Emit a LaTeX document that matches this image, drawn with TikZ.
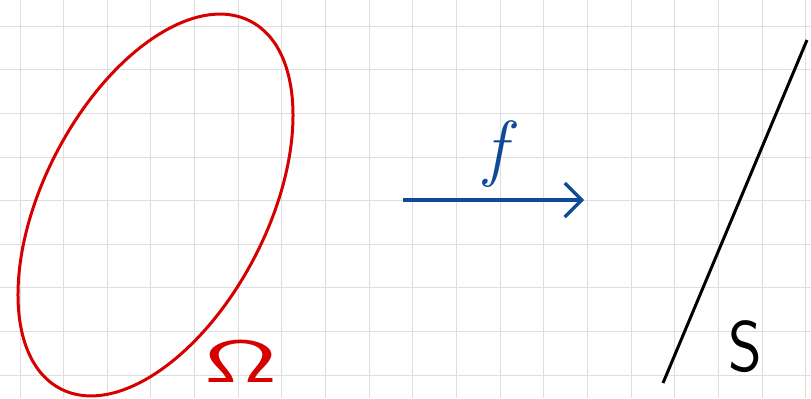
\documentclass[tikz,border=0pt]{standalone}
\usepackage{fontspec}
\usetikzlibrary{arrows.meta}
\definecolor{gridgray}{RGB}{222,222,222}
\definecolor{inkred}{RGB}{214,0,0}
\definecolor{inkblue}{RGB}{16,74,150}
\begin{document}
\begin{tikzpicture}[x=1bp,y=-1bp,
  gridline/.style={draw=gridgray,line width=1bp},
  redink/.style={draw=inkred,line width=3bp},
  blueink/.style={draw=inkblue,line width=3.2bp},
  blackink/.style={draw=black,line width=3bp},
  lbl/.style={inner sep=0pt,outer sep=0pt}]
\useasboundingbox (0,0) rectangle (811,398);
\fill[white] (0,0) rectangle (811,398);
% grid
\foreach \i in {0,...,18} {
  \draw[gridline] ({20+43.65*\i},0) -- ({20+43.65*\i},398);
}
\foreach \j in {0,...,8} {
  \draw[gridline] (0,{26.3+43.6*\j}) -- (811,{26.3+43.6*\j});
}
% domain
\draw[redink] (155.5,205) ellipse[x radius=206.9,y radius=112,rotate=62.7];
\node[lbl,text=inkred,xscale=1.8] (omega) at (241,361) {\fontsize{60}{60}\selectfont\sffamily Ω};
% map
\coordinate (fstart) at (403,200);
\coordinate (fend) at (584,200);
\draw[blueink,-{Straight Barb[length=17bp,width=34bp]}] (fstart) -- (fend);
\node[lbl,text=inkblue] (flabel) at (496,154) {\fontsize{74}{74}\selectfont\itshape f};
% image line
\coordinate (sbot) at (663,383);
\coordinate (stop) at (807,40);
\draw[blackink] (sbot) -- (stop);
\node[lbl,xscale=0.9] (slabel) at (745,347) {\fontsize{72}{72}\selectfont\sffamily S};
\end{tikzpicture}
\end{document}
